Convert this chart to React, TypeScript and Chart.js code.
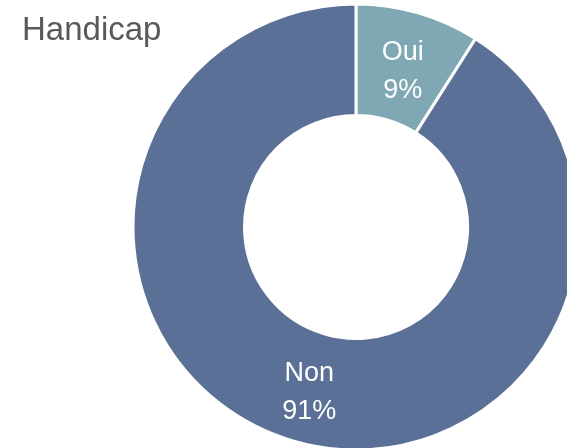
import React, { useEffect, useRef } from "react";
import { Chart, registerables } from "chart.js";

Chart.register(...registerables);

const title = "Handicap";
const categories = ["Oui", "Non"];
const values = [9, 91];
const percentLabels = ["9%", "91%"];
const colors = ["#7FA8B4", "#5B7097"];

const FONT = "'Liberation Sans', Arial, sans-serif";

const overlayPlugin = {
  id: "overlayText",
  afterDraw(chart: any) {
    const ctx = chart.ctx;
    ctx.save();
    ctx.fillStyle = "#595959";
    ctx.font = `33px ${FONT}`;
    ctx.textAlign = "left";
    ctx.textBaseline = "alphabetic";
    ctx.fillText(title, 22, 40);

    const meta = chart.getDatasetMeta(0);
    ctx.fillStyle = "#FFFFFF";
    ctx.font = `27px ${FONT}`;
    ctx.textAlign = "center";
    ctx.textBaseline = "middle";
    meta.data.forEach((arc: any, i: number) => {
      const p = arc.tooltipPosition();
      ctx.fillText(categories[i], p.x, p.y - 14);
      ctx.fillText(percentLabels[i], p.x, p.y + 24);
    });
    ctx.restore();
  },
};

export default function App() {
  const ref = useRef<HTMLCanvasElement | null>(null);
  useEffect(() => {
    document.body.style.margin = "0";
    const chart = new Chart(ref.current as HTMLCanvasElement, {
      type: "doughnut",
      data: {
        labels: categories,
        datasets: [
          {
            data: values,
            backgroundColor: colors,
            borderColor: "#FFFFFF",
            borderWidth: 3,
          },
        ],
      },
      options: {
        responsive: false,
        animation: false,
        radius: 223,
        cutout: "50%",
        layout: { padding: { left: 145, right: 0, top: 6, bottom: 0 } },
        plugins: {
          legend: { display: false },
          tooltip: { enabled: false },
          title: { display: false },
        },
      } as any,
      plugins: [overlayPlugin],
    });
    return () => chart.destroy();
  }, []);
  return (
    <div style={{ position: "fixed", left: 0, top: 0, width: 567, height: 448, background: "#fff" }}>
      <canvas ref={ref} width={567} height={448} />
    </div>
  );
}
